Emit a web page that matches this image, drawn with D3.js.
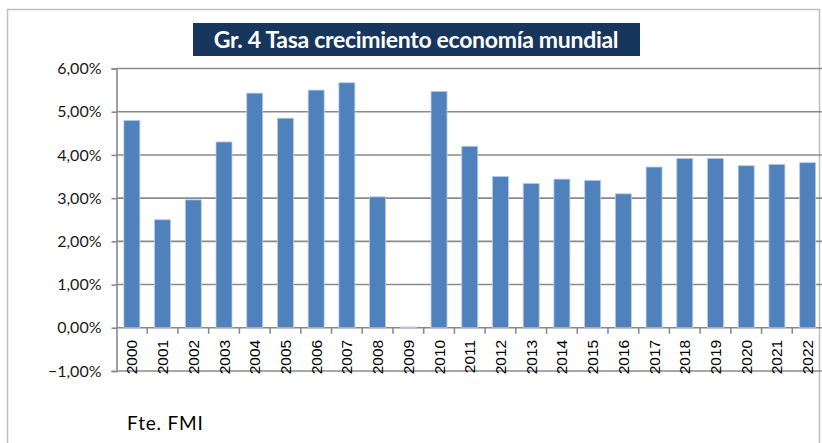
<!DOCTYPE html>
<html>
<head>
<meta charset="utf-8">
<script src="https://cdn.jsdelivr.net/npm/d3@7"></script>
<style>
  body { margin: 0; background: #fff; }
  svg { display: block; }
</style>
</head>
<body>
<div id="chart"></div>
<script>
/*chart data*/
var years = ["2000","2001","2002","2003","2004","2005","2006","2007","2008","2009","2010",
  "2011","2012","2013","2014","2015","2016","2017","2018","2019","2020","2021","2022"];
var growth = [4.8, 2.5, 2.96, 4.3, 5.43, 4.85, 5.5, 5.67, 3.03, 0.02, 5.47,
  4.2, 3.5, 3.34, 3.44, 3.41, 3.1, 3.72, 3.92, 3.92, 3.75, 3.78, 3.82];
var yTicks = [-1, 0, 1, 2, 3, 4, 5, 6];

var svgWidth = 822;
var svgHeight = 443;

/*plot area*/
var margin = { top: 68.5, left: 116.5, right: -1, bottom: 72 };
var width = svgWidth - margin.left - margin.right;
var height = svgHeight - margin.top - margin.bottom;

var svg = d3.select("#chart").append("svg")
  .attr("width", svgWidth)
  .attr("height", svgHeight);

/*outer chart border*/
svg.append("rect")
  .attr("x", 7.5).attr("y", 9.5)
  .attr("width", 812).attr("height", 460)
  .attr("fill", "none")
  .attr("stroke", "#bfbfbf")
  .attr("stroke-width", 1.5);

var g = svg.append("g")
  .attr("transform", `translate(${margin.left},${margin.top})`);

var xScale = d3.scaleBand().domain(years).range([0, width]).paddingInner(0.48).paddingOuter(0.24);
var yScale = d3.scaleLinear().domain([-1, 6]).range([height, 0]);

/*gridlines*/
g.selectAll(".grid")
  .data(yTicks)
  .enter().append("line")
  .attr("x1", 0).attr("x2", width)
  .attr("y1", d => yScale(d)).attr("y2", d => yScale(d))
  .attr("stroke", "#8a8a8a")
  .attr("stroke-width", 1.6);

/*y axis*/
var leftAxis = d3.axisLeft(yScale)
  .tickValues(yTicks)
  .tickSize(5)
  .tickPadding(10)
  .tickFormat(d => d3.format(".2f")(d).replace(".", ",") + "%");

var yAxis = g.append("g").call(leftAxis);
yAxis.select(".domain").attr("stroke", "#8a8a8a").attr("stroke-width", 1.6);
yAxis.selectAll(".tick line").attr("stroke", "#8a8a8a").attr("stroke-width", 1.6);
yAxis.selectAll("text")
  .attr("fill", "#1a1a1a")
  .style("font-family", "Lato, 'Open Sans', sans-serif")
  .style("font-size", "16px");

/*bars*/
g.selectAll(".bar")
  .data(growth)
  .enter().append("rect")
  .attr("class", "bar")
  .attr("x", (d, i) => xScale(years[i]))
  .attr("width", xScale.bandwidth())
  .attr("y", d => yScale(Math.max(0, d)))
  .attr("height", d => Math.abs(yScale(d) - yScale(0)))
  .attr("fill", "#4f81bd")
  .attr("stroke", "#b8cce4")
  .attr("stroke-width", 0.8);

/*category ticks on the zero line*/
var step = xScale.step();
g.selectAll(".xtick")
  .data(years.slice(1))
  .enter().append("line")
  .attr("x1", d => xScale(d) - (step - xScale.bandwidth()) / 2)
  .attr("x2", d => xScale(d) - (step - xScale.bandwidth()) / 2)
  .attr("y1", yScale(0)).attr("y2", yScale(0) + 6)
  .attr("stroke", "#8a8a8a")
  .attr("stroke-width", 1.6);

/*rotated year labels*/
g.selectAll(".xlabel")
  .data(years)
  .enter().append("text")
  .attr("transform", d => `translate(${xScale(d) + xScale.bandwidth() / 2 + 5.5},${yScale(0) + 12}) rotate(-90)`)
  .attr("text-anchor", "end")
  .attr("fill", "#000")
  .style("font-family", "'Liberation Sans', Arial, sans-serif")
  .style("font-size", "15.5px")
  .text(d => d);

/*title box*/
svg.append("rect")
  .attr("x", 193).attr("y", 23)
  .attr("width", 447).attr("height", 33)
  .attr("fill", "#17365d");

svg.append("text")
  .attr("x", 416).attr("y", 48)
  .attr("text-anchor", "middle")
  .attr("fill", "#fff")
  .style("font-family", "Lato, 'Open Sans', sans-serif")
  .style("font-weight", "bold")
  .style("font-size", "23px")
  .style("letter-spacing", "-0.3px")
  .text("Gr. 4 Tasa crecimiento economía mundial");

/*source note*/
svg.append("text")
  .attr("x", 127).attr("y", 430)
  .attr("fill", "#000")
  .style("font-family", "Lato, 'Open Sans', sans-serif")
  .style("font-size", "19px")
  .style("letter-spacing", "0.8px")
  .text("Fte. FMI");
</script>
</body>
</html>
